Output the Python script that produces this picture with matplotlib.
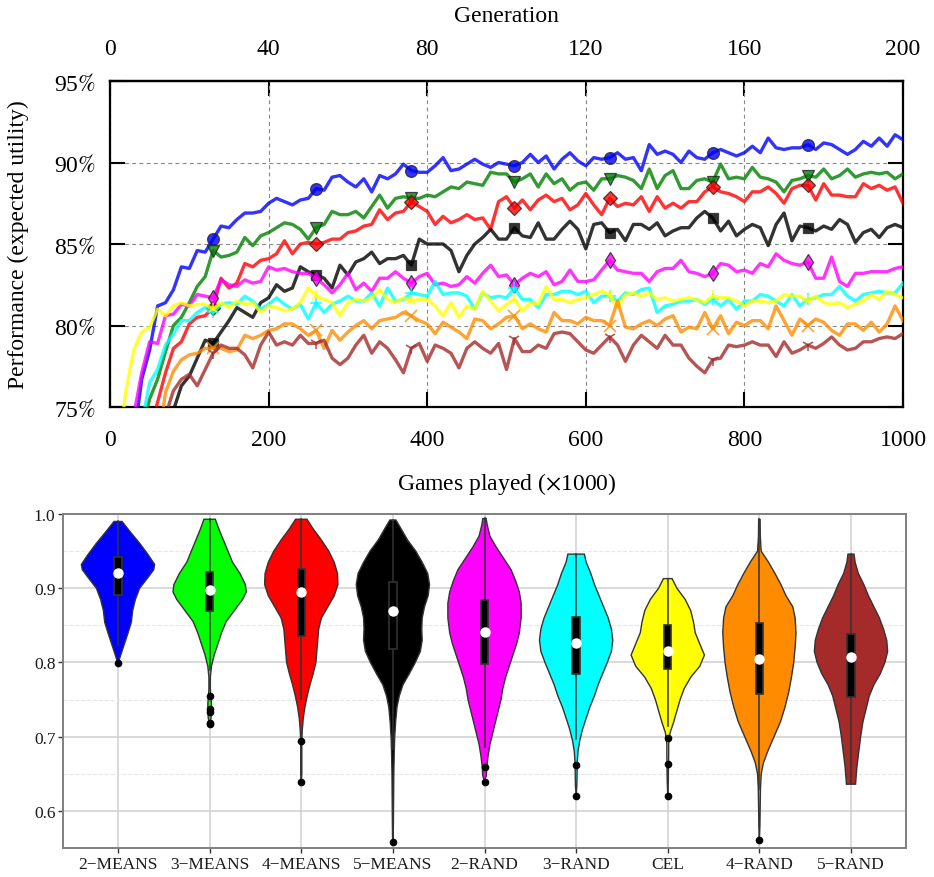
import numpy as np
import matplotlib
matplotlib.use('Agg')
import matplotlib.pyplot as plt
from matplotlib.patches import Rectangle
from matplotlib.ticker import FormatStrFormatter

plt.rcParams['font.family'] = ['Liberation Serif', 'DejaVu Serif']
plt.rcParams['mathtext.fontset'] = 'stix'

# ---------------- top panel data: performance per 10k games ----------------
games = np.arange(0, 1001, 10)
gen_ticks = [0, 40, 80, 120, 160, 200]
mark_idx = [13, 26, 38, 51, 63, 76, 88]

perf_2means = [60, 65, 69, 73, 76.7, 78.5, 81.2, 81.4, 82.2, 83.6,
               83.5, 84.6, 84.5, 85.3, 86.1, 86.0, 86.5, 86.9, 86.9, 87.0,
               87.5, 87.8, 87.6, 87.4, 87.7, 87.8, 88.4, 88.3, 89.1, 89.2,
               88.8, 88.5, 89.0, 88.2, 89.2, 89.0, 89.3, 89.9, 89.5, 89.4,
               89.4, 89.8, 90.3, 89.5, 89.6, 89.9, 90.2, 89.9, 89.7, 90.0,
               89.9, 89.8, 90.0, 90.5, 90.0, 90.4, 89.6, 90.2, 90.6, 90.1,
               89.8, 90.3, 90.2, 90.3, 90.6, 90.2, 90.3, 89.5, 91.1, 90.5,
               90.7, 90.5, 90.0, 90.7, 90.3, 90.2, 90.6, 90.8, 90.6, 90.4,
               90.6, 91.0, 90.6, 91.5, 90.9, 90.8, 90.9, 90.9, 91.1, 90.8,
               91.2, 91.1, 90.8, 90.5, 90.8, 91.3, 91.0, 91.5, 91.0, 91.7,
               91.4]
perf_3means = [60, 63, 66, 70, 73.5, 75.5, 76.7, 78.4, 80.0, 80.5,
               81.4, 82.4, 83.0, 84.6, 84.2, 84.3, 84.5, 85.4, 84.9, 85.5,
               85.7, 86.0, 86.3, 86.2, 85.9, 85.3, 86.0, 86.2, 87.0, 86.8,
               86.8, 87.0, 86.6, 87.3, 88.0, 87.2, 87.8, 87.9, 87.8, 87.8,
               88.0, 87.9, 88.2, 88.5, 88.4, 88.8, 88.7, 88.6, 89.4, 89.3,
               89.3, 88.8, 89.0, 89.3, 88.5, 89.3, 88.7, 89.0, 88.3, 88.7,
               88.8, 88.3, 89.0, 89.0, 89.2, 89.1, 88.9, 88.4, 89.6, 88.4,
               89.2, 89.5, 88.4, 88.4, 88.9, 89.0, 88.8, 89.9, 89.0, 89.1,
               89.0, 89.7, 89.1, 89.0, 88.8, 88.2, 88.9, 89.0, 89.2, 89.1,
               89.6, 89.0, 89.2, 89.6, 89.1, 89.3, 89.4, 89.3, 89.4, 89.0,
               89.3]
perf_4means = [58, 61, 64, 67, 70.5, 73.5, 75.3, 77.1, 78.6, 79.0,
               80.1, 80.5, 80.6, 81.1, 82.9, 82.3, 82.6, 83.8, 83.6, 84.0,
               84.1, 84.4, 85.2, 84.4, 85.0, 85.1, 85.0, 85.1, 85.3, 85.3,
               85.7, 85.8, 86.1, 86.2, 87.1, 86.5, 86.9, 87.0, 87.6, 87.3,
               87.0, 86.2, 86.7, 86.3, 86.5, 86.8, 86.5, 86.6, 85.9, 87.6,
               87.9, 87.2, 87.7, 87.1, 87.7, 88.0, 87.6, 87.8, 87.1, 87.4,
               88.1, 87.4, 86.8, 87.8, 87.3, 87.5, 87.4, 87.9, 87.0, 87.9,
               87.2, 87.5, 87.2, 87.6, 87.6, 88.2, 88.5, 88.2, 88.1, 87.9,
               87.6, 88.2, 88.2, 88.5, 88.1, 87.5, 88.4, 88.6, 88.6, 87.7,
               88.7, 88.0, 88.0, 87.9, 87.9, 88.7, 88.4, 88.6, 88.3, 88.5,
               87.5]
perf_5means = [55, 58, 61, 64, 67, 69.5, 71.5, 73.3, 74.8, 76.3,
               76.9, 78.0, 79.1, 78.9, 79.6, 80.3, 81.1, 80.8, 80.5, 81.4,
               81.7, 82.5, 82.1, 82.3, 83.6, 83.3, 83.1, 82.9, 82.3, 83.7,
               83.1, 83.9, 84.1, 84.5, 83.8, 84.1, 84.1, 84.3, 83.7, 85.3,
               85.0, 85.0, 85.0, 84.6, 83.3, 84.3, 85.0, 85.4, 85.9, 85.3,
               85.3, 86.0, 85.5, 85.4, 86.3, 85.3, 85.3, 85.9, 86.4, 85.9,
               84.7, 86.2, 86.3, 85.7, 85.9, 85.2, 86.2, 86.2, 85.9, 86.3,
               85.5, 85.8, 86.0, 86.0, 86.6, 87.0, 86.6, 85.8, 86.4, 85.5,
               85.9, 86.2, 86.0, 84.9, 86.2, 86.9, 85.2, 86.1, 86.0, 85.8,
               86.1, 85.9, 86.5, 86.2, 85.1, 85.7, 85.9, 85.4, 86.0, 86.2,
               86.0]
perf_2rand = [62, 66, 70, 74.5, 77.1, 79.0, 78.9, 80.6, 80.7, 81.3,
              81.2, 81.9, 81.8, 81.7, 82.8, 82.5, 82.4, 82.8, 82.6, 82.7,
              83.6, 83.4, 83.5, 83.3, 83.2, 83.2, 82.9, 82.5, 82.0, 82.5,
              83.2, 82.2, 82.6, 82.1, 82.9, 82.9, 83.3, 82.9, 82.6, 83.0,
              83.2, 82.5, 82.6, 82.4, 82.5, 83.0, 82.6, 83.2, 83.7, 83.0,
              83.1, 82.5, 82.9, 83.2, 83.0, 83.3, 82.5, 82.7, 83.4, 82.7,
              82.7, 82.8, 83.4, 84.0, 83.4, 83.3, 83.2, 83.2, 82.7, 83.3,
              83.5, 83.5, 84.0, 83.3, 83.2, 83.0, 83.2, 83.8, 83.7, 83.3,
              83.4, 83.2, 83.8, 83.6, 84.4, 84.0, 83.8, 83.7, 83.9, 82.9,
              82.9, 84.2, 82.7, 82.4, 83.2, 83.2, 83.3, 83.3, 83.3, 83.5,
              83.6]
perf_3rand = [60, 63.5, 67, 70.5, 74, 76.5, 77.3, 78.8, 79.5, 80.3,
              80.3, 80.8, 81.1, 80.8, 81.3, 81.4, 81.3, 81.8, 81.5, 81.0,
              81.3, 81.7, 81.3, 81.0, 81.3, 80.4, 81.4, 80.8, 81.3, 81.5,
              81.8, 81.5, 81.5, 82.0, 81.2, 82.3, 81.5, 81.6, 82.0, 81.9,
              81.8, 82.7, 81.9, 82.0, 82.0, 81.8, 81.0, 82.0, 81.7, 81.8,
              81.7, 82.3, 81.6, 81.6, 81.1, 81.9, 81.9, 82.1, 82.1, 81.9,
              82.1, 81.4, 81.8, 81.8, 81.5, 82.0, 81.9, 82.2, 82.3, 80.8,
              81.2, 81.3, 81.5, 81.5, 81.6, 81.3, 81.6, 81.2, 81.6, 81.0,
              81.5, 81.5, 81.9, 81.8, 81.5, 81.2, 81.9, 81.2, 81.6, 81.7,
              81.9, 81.9, 82.4, 81.8, 81.5, 81.9, 82.0, 82.1, 82.0, 82.0,
              82.6]
perf_cel = [69, 72, 76.0, 78.5, 79.6, 79.9, 81.0, 80.6, 81.2, 81.4,
            81.2, 81.3, 81.3, 81.0, 81.4, 81.1, 81.5, 81.3, 81.4, 80.8,
            81.2, 81.1, 80.9, 81.0, 81.4, 82.3, 81.8, 81.6, 81.4, 80.6,
            81.4, 81.6, 81.5, 81.7, 82.2, 81.6, 81.4, 81.7, 81.5, 81.6,
            81.6, 81.2, 80.6, 81.4, 80.5, 81.2, 81.0, 82.1, 81.5, 80.9,
            81.3, 81.6, 80.9, 81.4, 81.3, 82.4, 81.6, 81.6, 81.4, 81.6,
            81.7, 81.9, 82.1, 81.9, 81.1, 81.9, 82.0, 81.8, 82.0, 81.6,
            81.7, 81.5, 81.6, 81.7, 81.6, 81.4, 81.8, 81.7, 81.7, 81.5,
            81.2, 81.5, 81.5, 81.4, 81.5, 81.9, 81.8, 81.8, 81.5, 81.8,
            81.4, 81.3, 81.4, 81.1, 81.3, 81.5, 81.9, 81.6, 82.1, 81.9,
            81.7]
perf_4rand = [55, 58, 61, 64, 67, 70, 72.5, 75.9, 77.2, 77.9,
              78.2, 78.3, 78.6, 78.6, 78.6, 78.4, 78.5, 79.4, 79.2, 79.4,
              79.7, 79.8, 80.1, 80.1, 79.8, 79.4, 79.7, 78.6, 79.7, 79.1,
              79.6, 80.0, 80.3, 79.8, 80.3, 80.4, 80.5, 80.8, 80.6, 80.3,
              80.1, 79.5, 80.2, 79.9, 79.6, 79.2, 80.4, 80.3, 79.8, 80.1,
              80.5, 80.6, 79.8, 80.1, 79.8, 79.6, 80.8, 80.3, 80.3, 80.1,
              80.5, 80.3, 80.3, 80.0, 81.5, 79.9, 79.8, 80.1, 80.3, 80.0,
              80.4, 80.6, 79.6, 79.9, 79.8, 80.8, 79.8, 80.6, 79.5, 80.2,
              80.0, 80.3, 80.3, 79.8, 81.2, 80.3, 79.4, 80.4, 80.0, 80.4,
              80.2, 79.7, 79.4, 80.1, 80.1, 79.7, 80.2, 79.6, 80.1, 81.2,
              80.3]
perf_5rand = [52, 55, 58, 61, 64, 67, 70, 74.5, 76.0, 76.7,
              77.0, 76.3, 77.3, 78.3, 78.8, 78.6, 78.6, 78.2, 77.4, 78.8,
              79.6, 78.8, 79.0, 78.8, 79.4, 78.9, 78.9, 79.1, 78.0, 77.6,
              78.0, 78.8, 79.4, 78.3, 79.0, 78.6, 77.9, 77.1, 78.6, 78.9,
              77.8, 78.8, 78.6, 78.3, 77.4, 78.6, 79.0, 78.6, 78.3, 78.9,
              77.3, 79.2, 78.4, 78.4, 78.8, 78.6, 79.5, 79.6, 79.5, 79.0,
              78.5, 78.3, 78.8, 79.3, 78.8, 77.8, 78.8, 79.4, 79.0, 78.6,
              79.4, 78.8, 78.8, 78.0, 77.5, 77.1, 77.9, 78.0, 78.8, 78.7,
              78.8, 79.0, 78.8, 78.8, 78.1, 79.0, 78.3, 78.5, 78.8, 78.6,
              78.9, 79.3, 78.8, 78.5, 78.6, 79.0, 79.0, 79.2, 79.3, 79.2,
              79.5]

# ---------------- bottom panel data: violin profiles + box stats ----------------
cats = ['2\u2212MEANS', '3\u2212MEANS', '4\u2212MEANS', '5\u2212MEANS', '2\u2212RAND',
        '3\u2212RAND', 'CEL', '4\u2212RAND', '5\u2212RAND']
vcolors = ['#0000ff', '#00ff00', '#ff0000', '#000000', '#ff00ff',
           '#00ffff', '#ffff00', '#ff8c00', '#a52a2a']

vy_2means = [0.990, 0.975, 0.960, 0.945, 0.932, 0.925, 0.915, 0.900, 0.885, 0.870, 0.854, 0.840, 0.825, 0.812, 0.803, 0.799]
vw_2means = [0.044, 0.14, 0.24, 0.33, 0.40, 0.39, 0.33, 0.236, 0.19, 0.16, 0.145, 0.11, 0.07, 0.035, 0.012, 0.0]
vy_3means = [0.993, 0.980, 0.965, 0.950, 0.935, 0.920, 0.905, 0.895, 0.885, 0.870, 0.855, 0.840, 0.825, 0.810, 0.795,
             0.780, 0.765, 0.755, 0.745, 0.735, 0.725, 0.716]
vw_3means = [0.062, 0.10, 0.15, 0.20, 0.25, 0.33, 0.39, 0.40, 0.36, 0.27, 0.18, 0.13, 0.09, 0.05, 0.02,
             0.008, 0.008, 0.012, 0.02, 0.02, 0.015, 0.0]
vy_4means = [0.993, 0.980, 0.965, 0.950, 0.935, 0.920, 0.905, 0.890, 0.875, 0.860, 0.845, 0.830, 0.815, 0.800, 0.785,
             0.770, 0.755, 0.740, 0.725, 0.710, 0.700, 0.690, 0.670, 0.650, 0.639]
vw_4means = [0.062, 0.13, 0.22, 0.30, 0.36, 0.395, 0.40, 0.36, 0.29, 0.22, 0.19, 0.18, 0.17, 0.16, 0.13,
             0.095, 0.065, 0.04, 0.022, 0.012, 0.008, 0.006, 0.006, 0.006, 0.0]
vy_5means = [0.992, 0.980, 0.965, 0.950, 0.935, 0.920, 0.905, 0.890, 0.875, 0.860, 0.845, 0.830, 0.815, 0.800, 0.785,
             0.770, 0.755, 0.740, 0.720, 0.700, 0.680, 0.650, 0.620, 0.590, 0.565, 0.558]
vw_5means = [0.033, 0.09, 0.16, 0.25, 0.32, 0.38, 0.40, 0.385, 0.345, 0.32, 0.315, 0.32, 0.30, 0.245, 0.18,
             0.11, 0.07, 0.045, 0.03, 0.02, 0.015, 0.01, 0.008, 0.006, 0.004, 0.0]
vy_2rand = [0.994, 0.985, 0.970, 0.955, 0.940, 0.925, 0.910, 0.895, 0.880, 0.860, 0.840, 0.825, 0.810, 0.795, 0.780,
            0.765, 0.750, 0.735, 0.720, 0.705, 0.690, 0.675, 0.660, 0.648, 0.639]
vw_2rand = [0.018, 0.03, 0.06, 0.13, 0.21, 0.29, 0.34, 0.38, 0.40, 0.40, 0.38, 0.35, 0.31, 0.27, 0.23,
            0.20, 0.18, 0.15, 0.12, 0.09, 0.06, 0.04, 0.025, 0.02, 0.0]
vy_3rand = [0.946, 0.935, 0.920, 0.905, 0.890, 0.875, 0.860, 0.845, 0.830, 0.815, 0.800, 0.785, 0.770, 0.755, 0.740,
            0.725, 0.710, 0.695, 0.680, 0.665, 0.650, 0.635, 0.620]
vw_3rand = [0.09, 0.11, 0.16, 0.20, 0.25, 0.30, 0.35, 0.385, 0.40, 0.385, 0.34, 0.29, 0.24, 0.20, 0.15,
            0.11, 0.07, 0.04, 0.02, 0.012, 0.01, 0.008, 0.0]
vy_cel = [0.913, 0.900, 0.885, 0.870, 0.855, 0.840, 0.825, 0.810, 0.795, 0.780, 0.765, 0.750, 0.735, 0.720, 0.705,
          0.690, 0.675, 0.660, 0.640, 0.620]
vw_cel = [0.047, 0.10, 0.19, 0.25, 0.28, 0.30, 0.35, 0.40, 0.35, 0.25, 0.18, 0.135, 0.10, 0.065, 0.025,
          0.01, 0.01, 0.008, 0.006, 0.0]
vy_4rand = [0.993, 0.970, 0.950, 0.935, 0.920, 0.905, 0.890, 0.875, 0.860, 0.840, 0.820, 0.800, 0.780, 0.760, 0.740,
            0.720, 0.700, 0.680, 0.665, 0.650, 0.630, 0.600, 0.580, 0.561]
vw_4rand = [0.008, 0.01, 0.02, 0.10, 0.17, 0.235, 0.29, 0.365, 0.39, 0.40, 0.39, 0.375, 0.35, 0.32, 0.28,
            0.23, 0.16, 0.09, 0.045, 0.02, 0.012, 0.008, 0.006, 0.0]
vy_5rand = [0.946, 0.935, 0.920, 0.905, 0.890, 0.875, 0.860, 0.845, 0.830, 0.815, 0.800, 0.785, 0.770, 0.755, 0.740,
            0.720, 0.700, 0.680, 0.660, 0.645, 0.636]
vw_5rand = [0.033, 0.045, 0.08, 0.14, 0.19, 0.25, 0.31, 0.355, 0.39, 0.40, 0.37, 0.32, 0.25, 0.20, 0.17,
            0.13, 0.105, 0.085, 0.065, 0.055, 0.05]

q1 = [0.891, 0.870, 0.836, 0.818, 0.798, 0.784, 0.791, 0.758, 0.753]
med = [0.921, 0.898, 0.895, 0.870, 0.841, 0.826, 0.815, 0.805, 0.808]
q3 = [0.942, 0.922, 0.926, 0.908, 0.884, 0.861, 0.850, 0.853, 0.839]
w_lo = [0.823, 0.790, 0.751, 0.683, 0.686, 0.697, 0.715, 0.630, 0.636]
w_hi = [0.990, 0.993, 0.993, 0.992, 0.994, 0.946, 0.913, 0.993, 0.946]
outliers = [[0.799], [0.755, 0.737, 0.733, 0.719, 0.717], [0.694, 0.639], [0.558],
            [0.659, 0.639], [0.662, 0.620], [0.698, 0.663, 0.620], [0.561], []]

fig = plt.figure(figsize=(9.34, 8.78), dpi=100)

# ================= top panel =================
ax = fig.add_axes([0.1178, 0.5353, 0.849, 0.3713])
lines = [
    (perf_2means, 'blue', 'o', 8.5),
    (perf_3means, 'green', 'v', 8.5),
    (perf_4means, 'red', 'D', 7.5),
    (perf_5means, 'black', 's', 7.5),
    (perf_2rand, 'magenta', 'd', 8.5),
    (perf_3rand, 'cyan', '+', 8),
    (perf_cel, 'yellow', '2', 8),
    (perf_4rand, 'darkorange', 'x', 9),
    (perf_5rand, 'brown', '1', 9),
]
for vals, col, mk, ms in lines:
    filled = mk in 'ovDsd'
    ax.plot(games, vals, color=col, lw=2.4, alpha=0.8, marker=mk, markevery=mark_idx,
            ms=ms, mfc=col, mec='#222222' if filled else col, mew=0.9 if filled else 1.2,
            zorder=3, clip_on=True)

ax.set_xlim(0, 1000)
ax.set_ylim(75, 95)
ax.set_xticks([0, 200, 400, 600, 800, 1000])
ax.set_yticks([75, 80, 85, 90, 95])
ax.set_yticklabels([f'{v}$\\it{{\\%}}$' for v in [75, 80, 85, 90, 95]])
ax.grid(True, ls=(0, (3.5, 3)), color='#888888', lw=0.8, zorder=0)
ax.tick_params(axis='x', direction='in', length=11, width=1.5, top=False,
               labelsize=17, pad=16)
ax.tick_params(axis='y', direction='in', length=11, width=1.5, right=True,
               labelsize=17, pad=10)
for s in ax.spines.values():
    s.set_linewidth(1.6)
ax.set_xlabel('Games played ($\\times$1000)', fontsize=17, labelpad=14)
ax.set_ylabel('Performance (expected utility)', fontsize=17, labelpad=18)

sec = ax.secondary_xaxis('top', functions=(lambda x: x / 5.0, lambda x: x * 5.0))
sec.set_xticks(gen_ticks)
sec.tick_params(direction='in', length=11, width=1.5, labelsize=17, pad=16)
sec.spines['top'].set_linewidth(1.6)
sec.set_xlabel('Generation', fontsize=17, labelpad=12)

# ================= bottom panel =================
ax2 = fig.add_axes([0.0675, 0.033, 0.9025, 0.3804])
profiles = [(vy_2means, vw_2means), (vy_3means, vw_3means), (vy_4means, vw_4means),
            (vy_5means, vw_5means), (vy_2rand, vw_2rand), (vy_3rand, vw_3rand),
            (vy_cel, vw_cel), (vy_4rand, vw_4rand), (vy_5rand, vw_5rand)]
for i, ((vy, vw), col) in enumerate(zip(profiles, vcolors)):
    pos = i + 1
    vy = np.array(vy)
    vw = np.array(vw)
    xs = np.r_[pos - vw, (pos + vw)[::-1]]
    ys = np.r_[vy, vy[::-1]]
    ax2.fill(xs, ys, facecolor=col, edgecolor='#333333', lw=1.0, zorder=2)
    ax2.plot([pos, pos], [w_lo[i], w_hi[i]], color='#333333', lw=1.1, zorder=3)
    ax2.add_patch(Rectangle((pos - 0.04, q1[i]), 0.08, q3[i] - q1[i], facecolor='black',
                            edgecolor='#333333', lw=1.2, zorder=4))
    ax2.plot(pos, med[i], 'o', color='white', ms=6.5, mec='white', zorder=5)
    if outliers[i]:
        ax2.plot([pos] * len(outliers[i]), outliers[i], 'o', color='black', ms=4.5, zorder=5)

ax2.set_xlim(0.4, 9.6)
ax2.set_ylim(0.55, 1.0)
ax2.set_xticks(range(1, 10))
ax2.set_xticklabels(cats)
ax2.set_yticks([0.6, 0.7, 0.8, 0.9, 1.0])
ax2.set_yticks([0.65, 0.75, 0.85, 0.95], minor=True)
ax2.yaxis.set_major_formatter(FormatStrFormatter('%.1f'))
ax2.set_axisbelow(True)
ax2.grid(which='major', color='#d0d0d0', lw=1.1)
ax2.grid(which='minor', axis='y', color='#e6e6e6', lw=0.8, ls='--')
ax2.tick_params(which='major', direction='out', length=3.5, width=1, color='#333333',
                labelsize=12.5, labelcolor='#1a1a1a', pad=2)
ax2.tick_params(which='minor', length=0)
for s in ax2.spines.values():
    s.set_color('#7f7f7f')
    s.set_linewidth(1.4)

fig.savefig('out.png', dpi=100)
